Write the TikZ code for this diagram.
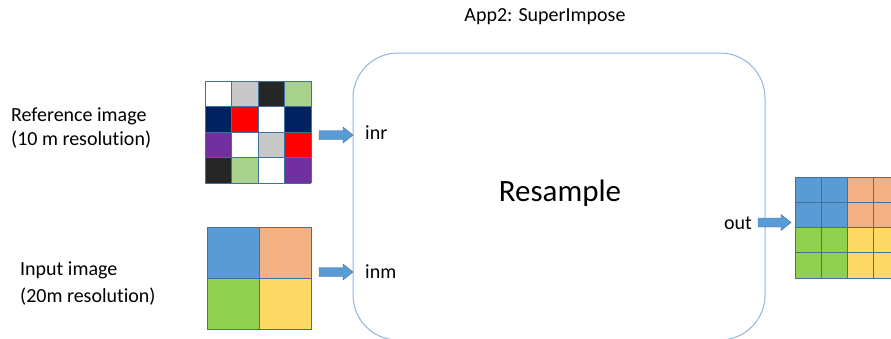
\documentclass[tikz,border=0pt]{standalone}
\usepackage{fontspec}
\setmainfont{Carlito}[Ligatures=NoCommon]
\usetikzlibrary{positioning}
\definecolor{gridline}{RGB}{65,113,156}
\definecolor{boxline}{RGB}{143,180,226}
\definecolor{cblue}{RGB}{91,155,213}
\definecolor{corange}{RGB}{244,177,131}
\definecolor{cgreen}{RGB}{146,208,80}
\definecolor{cyellow}{RGB}{255,217,102}
\definecolor{cgrey}{RGB}{200,200,200}
\definecolor{cblack}{RGB}{38,38,38}
\definecolor{clgreen}{RGB}{169,209,142}
\definecolor{cnavy}{RGB}{0,32,96}
\definecolor{cred}{RGB}{255,0,0}
\definecolor{cpurple}{RGB}{112,48,160}
\definecolor{arrowfill}{RGB}{91,155,213}
\definecolor{arrowline}{RGB}{65,113,156}
\tikzset{
  cell/.style={draw=gridline, line width=0.9pt},
  smalltext/.style={font=\fontsize{20}{24}\selectfont, inner sep=0pt},
  blockarrow/.style={fill=arrowfill, draw=arrowline, line width=0.4pt},
  procbox/.style={draw=boxline, line width=1pt, rounded corners=45pt}
}
\begin{document}
\begin{tikzpicture}[x=1pt,y=-1pt]
\useasboundingbox (0,0) rectangle (891,338);
\clip (0,0) rectangle (891,338);
% title
\node[smalltext] (title) at (545,17) {App2: SuperImpose};
% process box
\draw[procbox] (353,53) rectangle (765,340);
\node[font=\fontsize{31}{36}\selectfont, inner sep=0pt] (resample) at (560,193) {Resample};
% left labels
\node[smalltext, anchor=west, align=left] (reflabel) at (11,128) {Reference image\\(10 m resolution)};
\node[smalltext, anchor=west, align=left, font=\fontsize{20}{27}\selectfont] (inlabel) at (20,283.5) {Input image\\(20m resolution)};
% reference grid 4x4
\def\cw{26.5}
\foreach \c [count=\i from 0] in {white,cgrey,cblack,clgreen}
  \fill[\c] (205+\i*\cw,81) rectangle ++(\cw,25.5);
\foreach \c [count=\i from 0] in {cnavy,cred,white,cnavy}
  \fill[\c] (205+\i*\cw,106.5) rectangle ++(\cw,25.5);
\foreach \c [count=\i from 0] in {cpurple,white,cgrey,cred}
  \fill[\c] (205+\i*\cw,132) rectangle ++(\cw,25.5);
\foreach \c [count=\i from 0] in {cblack,clgreen,white,cpurple}
  \fill[\c] (205+\i*\cw,157.5) rectangle ++(\cw,25.5);
\foreach \i in {0,...,4} \draw[cell] (205+\i*\cw,81) -- (205+\i*\cw,183);
\foreach \j in {0,...,4} \draw[cell] (205,81+\j*25.5) -- (311,81+\j*25.5);
\node[inner sep=0pt, minimum width=106pt, minimum height=102pt] (refgrid) at (258,132) {};
% input grid 2x2
\fill[cblue] (207,227) rectangle (259,278);
\fill[corange] (259,227) rectangle (311,278);
\fill[cgreen] (207,278) rectangle (259,329);
\fill[cyellow] (259,278) rectangle (311,329);
\draw[cell] (207,227) rectangle (311,329);
\draw[cell] (259,227) -- (259,329);
\draw[cell] (207,278) -- (311,278);
\node[inner sep=0pt, minimum width=104pt, minimum height=102pt] (ingrid) at (259,278) {};
% output grid
\fill[cblue] (795,177) rectangle (847,227.5);
\fill[corange] (847,177) rectangle (905,227.5);
\fill[cgreen] (795,227.5) rectangle (847,278);
\fill[cyellow] (847,227.5) rectangle (905,278);
\foreach \i in {0,...,4} \draw[cell] (795+\i*26,177) -- (795+\i*26,278);
\foreach \j in {0,...,4} \draw[cell] (795,177+\j*25.25) -- (905,177+\j*25.25);
\coordinate (outgrid) at (795,222);
% port labels
\node[smalltext, anchor=west] (inr) at (365,133) {inr};
\node[smalltext, anchor=west] (inm) at (365,272) {inm};
\node[smalltext, anchor=east] (out) at (752,223) {out};
% block arrows
\draw[blockarrow] (319,130.5) -- (343,130.5) -- (343,127) -- (353,135) -- (343,143) -- (343,139.5) -- (319,139.5) -- cycle;
\draw[blockarrow] (319,267.5) -- (343,267.5) -- (343,264) -- (353,272) -- (343,280) -- (343,276.5) -- (319,276.5) -- cycle;
\draw[blockarrow] (758,218) -- (781,218) -- (781,214.5) -- (791,222.5) -- (781,230.5) -- (781,227) -- (758,227) -- cycle;
\end{tikzpicture}
\end{document}
